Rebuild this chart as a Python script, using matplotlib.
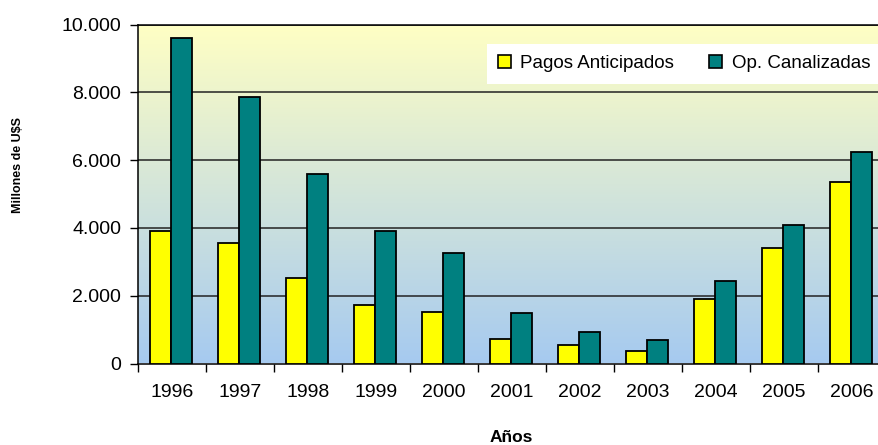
import numpy as np
import matplotlib
matplotlib.use("Agg")
import matplotlib.pyplot as plt
from matplotlib.patches import Patch
from matplotlib.colors import LinearSegmentedColormap

years = ["1996", "1997", "1998", "1999", "2000", "2001", "2002", "2003", "2004", "2005", "2006"]
pagos = [3900, 3560, 2520, 1730, 1520, 720, 535, 380, 1910, 3420, 5345]
canal = [9610, 7870, 5600, 3910, 3260, 1480, 930, 685, 2425, 4095, 6230]
series_names = ["Pagos Anticipados", "Op. Canalizadas"]
yticks = [0, 2000, 4000, 6000, 8000, 10000]
ytick_labels = ["0", "2.000", "4.000", "6.000", "8.000", "10.000"]

plt.rcParams['font.family'] = ['Liberation Sans', 'DejaVu Sans']

W, H = 879, 445
fig = plt.figure(figsize=(W / 100, H / 100), dpi=100)
x0, x1 = 137.7, 885.7
y0, y1 = 24.7, 363.5
ax = fig.add_axes([x0 / W, 1 - y1 / H, (x1 - x0) / W, (y1 - y0) / H])

n = len(years)
ax.set_xlim(-0.5, n - 0.5)
ax.set_ylim(0, 10000)

# gradient background
cmap = LinearSegmentedColormap.from_list("bg", ["#A6CAF0", "#FFFFC4"])
grad = np.linspace(0, 1, 256).reshape(-1, 1)
ax.imshow(grad, extent=(-0.5, n - 0.5, 0, 10000), origin="lower", aspect="auto",
          cmap=cmap, zorder=0)

for v in yticks[1:]:
    ax.axhline(v, color="#222222", lw=1.1, zorder=1)

x = np.arange(n)
w = 0.31
ax.bar(x - w / 2 - 0.01, pagos, width=w, color="#FFFF00", edgecolor="black", lw=1.3, zorder=3)
ax.bar(x + w / 2 - 0.01, canal, width=w, color="#008080", edgecolor="black", lw=1.3, zorder=3)

ax.set_yticks(yticks)
ax.set_yticklabels(ytick_labels, fontsize=14)
ax.tick_params(axis="y", length=6, width=1, pad=6, direction="out")

ax.set_xticks(x)
ax.set_xticklabels(years, fontsize=14)
ax.set_xticks(np.arange(-0.5, n, 1), minor=True)
ax.tick_params(axis="x", which="major", length=0, pad=15)
ax.tick_params(axis="x", which="minor", length=6, width=1, direction="out")

for s in ["top", "left", "bottom", "right"]:
    ax.spines[s].set_color("black")
    ax.spines[s].set_linewidth(1.1)

fig.text(511 / W, 1 - 437 / H, "Años", fontsize=12.5, fontweight="bold", ha="center", va="center")
fig.text(18 / W, 1 - 164.5 / H, "Millones de U$S", fontsize=9, fontweight="bold",
         rotation=90, ha="center", va="center")

handles = [Patch(facecolor="#FFFF00", edgecolor="black", lw=1.2),
           Patch(facecolor="#008080", edgecolor="black", lw=1.2)]
leg = fig.legend(handles, series_names, loc="upper left",
                 bbox_to_anchor=(486.7 / W, 1 - 44 / H), ncol=2, fontsize=13.5,
                 frameon=True, fancybox=False, framealpha=1, edgecolor="white",
                 handlelength=0.7, handleheight=0.7, handletextpad=0.5,
                 columnspacing=1.85, borderpad=0.6, borderaxespad=0)
leg.get_frame().set_linewidth(0)

fig.savefig("out.png", dpi=100)
